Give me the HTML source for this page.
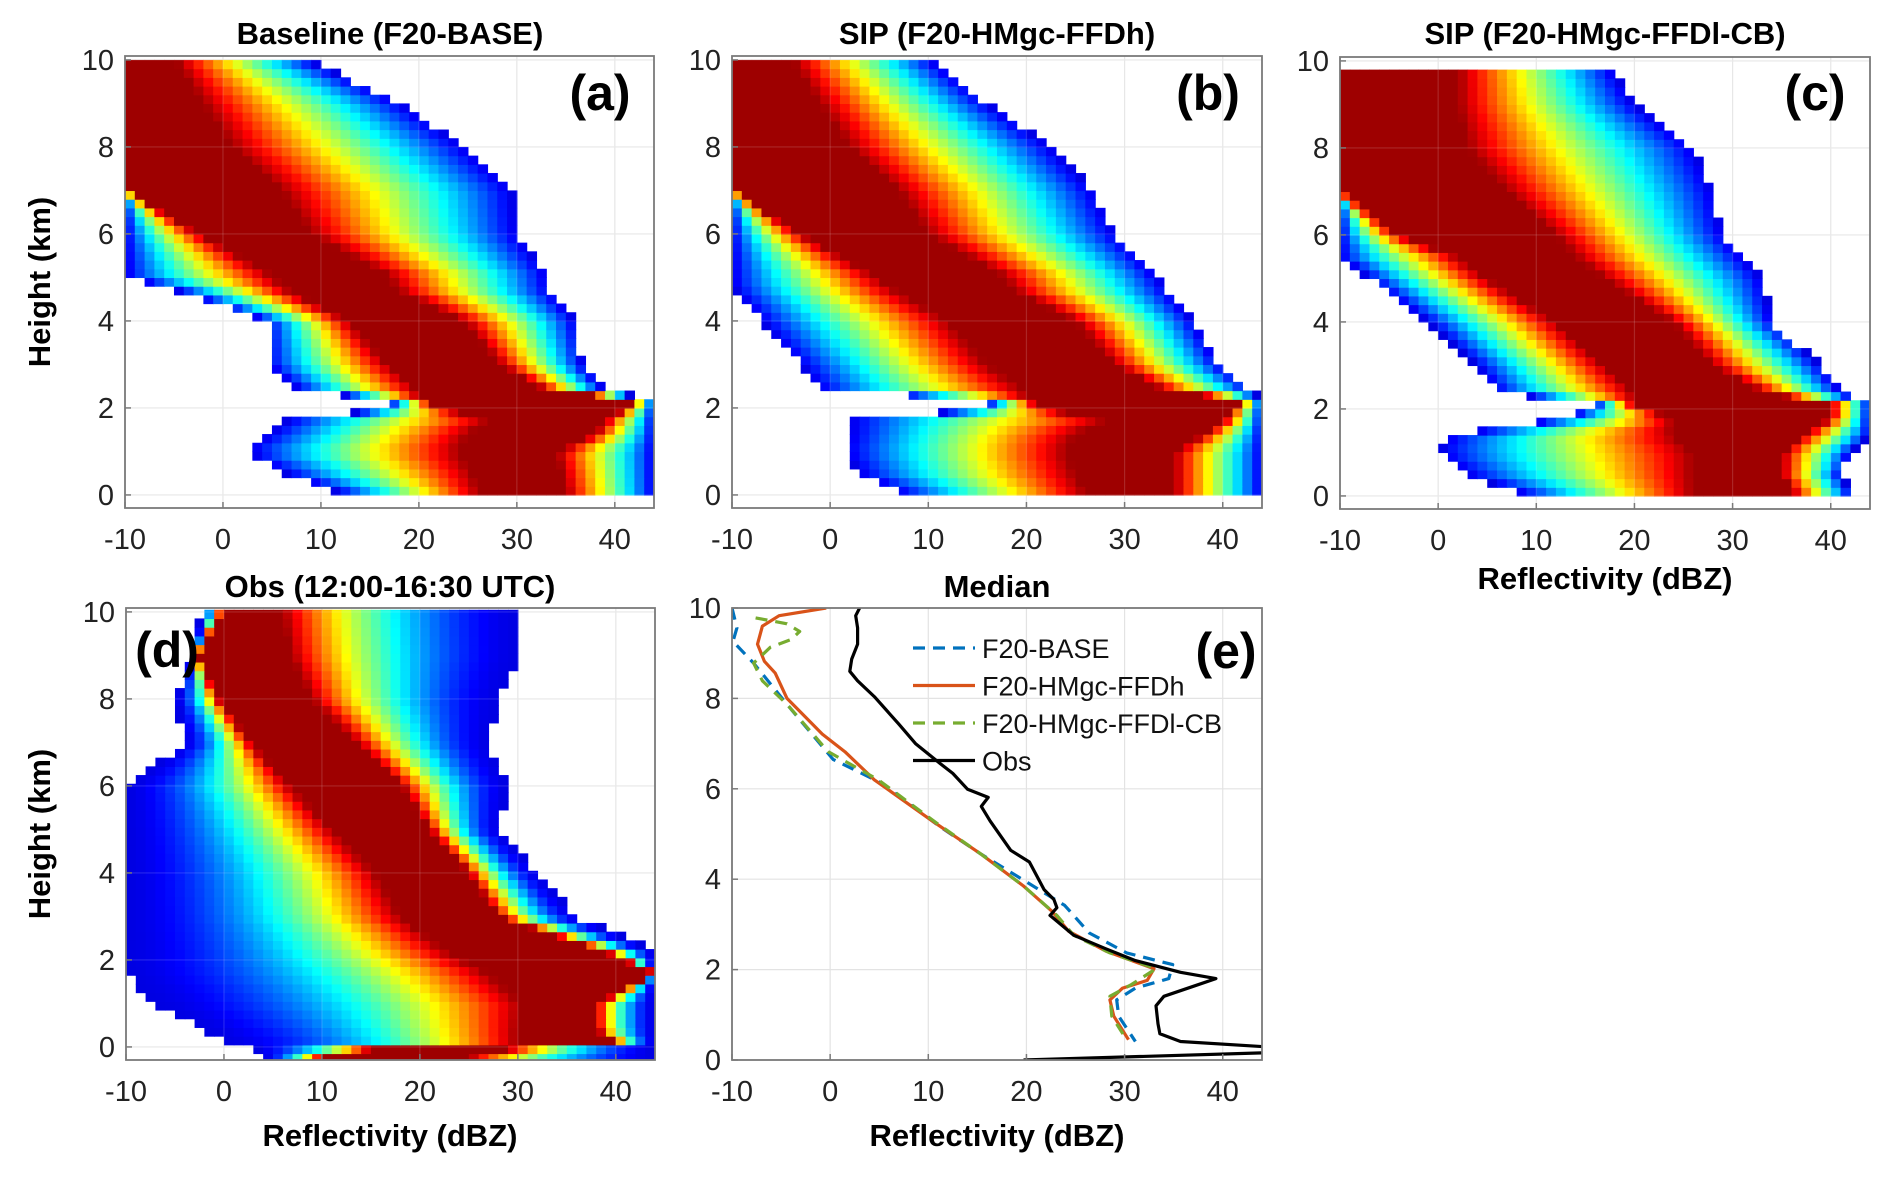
<!DOCTYPE html>
<html><head><meta charset="utf-8"><style>
html,body{margin:0;padding:0;background:#fff;}
svg{display:block;font-family:"Liberation Sans","DejaVu Sans",sans-serif;}
</style></head><body>
<svg id="fig" width="1892" height="1177" viewBox="0 0 1892 1177" xmlns="http://www.w3.org/2000/svg"></svg>
<script>
// ---- Panel (a) Baseline data: per-height profile of reflectivity distribution ----
const aHeights=[0.1,0.5,1,1.4,1.7,2,2.2,2.4,3,4,4.8,5,6,7,8,9,10.05];
const aXmin=[11.4,6.4,2.3,4.6,6.4,17,17,7.8,4.6,4.6,-6,-10,-10,-10,-10,-10,-10];
const aCoreL=[26.2,25.5,24,25,27,22.8,20,20,16.9,12.8,6,5.5,-2.3,-10,-10,-10,-10];
const aCoreR=[35,34.6,34,37.8,39,41,42,33,28.3,24.6,17,17.3,9,6,1,-2,-5];
const aXmax=[44,44,44,44,44,44,44,39,36.7,36,33,33.3,30,29.6,24.6,18.2,8.2];
// ---- Panel (b) ----
const bHeights=[0.1,0.5,1,1.4,1.7,2,2.2,2.4,3,4,4.8,5,6,7,8,9,10.05];
const bXmin=[6.7,3,1.5,2,2,16,16,-1,-3,-7,-10,-10,-10,-10,-10,-10,-10];
const bCoreL=[26,25,24,25,28,22,20,20,16,12,6,5,-3,-10,-10,-10,-10];
const bCoreR=[35,35,35,38,40,41,42,34,29,25,18,18,10,7,2,-1,-4];
const bXmax=[44,44,44,44,44,44,44,43,39.6,37,34,33.5,29,26.8,22.5,16,10];
// ---- Panel (c) ----
const cHeights=[0.1,0.5,1,1.4,1.8,2.1,2.4,3,4,5,5.5,6,7,8,9,9.7];
const cXmin=[8,3,0,1,13,16,6,4,-1,-7,-10,-10,-10,-10,-10,-10];
const cCoreL=[26,26,26,24,24,20,20,17,12,5,2,-4,-10,-10,-10,-10];
const cCoreR=[36,35,35,37,40,40,33,28,24,17,14,12,7,3,2,2];
const cXmax=[42,41,42,44,44,44,41,39,34,33,31,29,28,26,20,18];
// ---- Panel (d) Obs ----
const dHeights=[-0.25,-0.1,0.1,0.4,1,1.7,2.2,3,4,5,6,7,8,9,10.05];
const dXmin=[4,4,0,-2,-7,-10,-10,-10,-10,-10,-10,-4,-5,-3.2,-2.3];
const dCoreL=[10,10,30,30,30.5,27,22.8,18,15.5,11,6.8,2.7,-0.5,-2.8,0];
const dCoreR=[25,25,40,38,38,44,38.8,28,25,21,18.2,13.6,9,6.8,5.9];
const dXmax=[44,44,44,44,44,44,44,36,32,28,29,27,28,30,30];
// ---- Panel (e) median profiles ----
const obsX=[3.0,2.6,2.8,2.8,2.2,2.0,2.8,4.5,7.0,8.7,11.2,12.5,14.0,16.1,15.4,16.3,18.4,20.3,21.8,22.8,23.1,22.4,24.8,28.1,31.1,35.7,39.3,37.0,34.0,33.2,33.4,33.6,35.7,46,46,19.7];
const obsY=[10,9.83,9.56,9.2,8.87,8.6,8.39,8.04,7.43,7.0,6.56,6.34,5.99,5.81,5.61,5.29,4.64,4.38,3.77,3.55,3.37,3.2,2.76,2.46,2.2,1.94,1.8,1.63,1.41,1.2,0.8,0.58,0.41,0.27,0.17,0.0];
const ffdhX=[-0.4,-5.2,-6.9,-7.4,-6.7,-5.6,-4.4,-0.8,1.5,4.5,10.4,15.4,19.7,22.6,24.3,28.1,33.0,32.3,29.8,28.5,28.9,30.4];
const ffdhY=[10,9.83,9.6,9.2,8.82,8.56,8.0,7.21,6.82,6.2,5.29,4.55,3.85,3.29,2.85,2.41,2.02,1.76,1.59,1.33,0.97,0.45];
const baseX=[-10,-9.5,-9.9,-7.8,-4.4,0.3,5.3,11.2,15.4,19.7,23.9,26.4,30.2,34.9,34.5,31.1,29.2,29.4,31.1];
const baseY=[10,9.56,9.26,8.78,7.87,6.65,6.12,5.16,4.55,3.98,3.42,2.81,2.37,2.11,1.8,1.59,1.33,0.97,0.41];
const cbX=[-7.6,-4.4,-3.1,-4.0,-6.1,-7.8,-6.9,-4.4,-0.2,4.9,10.8,15.4,19.7,23.1,24.8,28.5,33.2,30.7,28.5,28.7,30.2];
const cbY=[9.78,9.65,9.48,9.3,9.13,8.78,8.39,7.87,6.82,6.2,5.25,4.55,3.85,3.2,2.76,2.37,2.02,1.67,1.41,0.97,0.45];
const xTicks=[-10,0,10,20,30,40];
const yTicks=[0,2,4,6,8,10];

const NS="http://www.w3.org/2000/svg";
const svg=document.getElementById('fig');
function mk(tag,attrs,parent){const e=document.createElementNS(NS,tag);for(const k in attrs)e.setAttribute(k,attrs[k]);(parent||svg).appendChild(e);return e;}
function txt(s,attrs,parent){const e=mk('text',attrs,parent);e.textContent=s;return e;}
function jet(v){v=v*0.97;const c=t=>Math.max(0,Math.min(1,t));const r=c(1.5-Math.abs(4*v-3)),g=c(1.5-Math.abs(4*v-2)),b=c(1.5-Math.abs(4*v-1));
  return 'rgb('+Math.round(r*255)+','+Math.round(g*255)+','+Math.round(b*255)+')';}
function interp(hs,arr,h){for(let i=0;i<hs.length-1;i++){if(h>=hs[i]&&h<=hs[i+1]){const t=(h-hs[i])/(hs[i+1]-hs[i]);return arr[i]+t*(arr[i+1]-arr[i]);}}return null;}

const panels={
 a:{x0:125,x1:654,y0:56,y1:508,ymin:-0.3,ymax:10.09},
 b:{x0:732,x1:1262,y0:56,y1:508,ymin:-0.3,ymax:10.09},
 c:{x0:1340,x1:1870,y0:57,y1:509,ymin:-0.3,ymax:10.09},
 d:{x0:126,x1:655,y0:608,y1:1060,ymin:-0.3,ymax:10.09},
 e:{x0:732,x1:1262,y0:608,y1:1060,ymin:0,ymax:10}
};
for(const k in panels){const p=panels[k];p.sx=v=>p.x0+(v+10)/54*(p.x1-p.x0);p.sy=v=>p.y1-(v-p.ymin)/(p.ymax-p.ymin)*(p.y1-p.y0);}

function axesBase(p,name){
  const g=mk('g',{});
  
  
  mk('rect',{x:p.x0,y:p.y0,width:p.x1-p.x0,height:p.y1-p.y0,fill:'#fff'},g);
  return g;
}
function grid(p,g){
  xTicks.forEach(t=>{const x=p.sx(t);const l=mk('line',{x1:x,x2:x,y1:p.y0,y2:p.y1,stroke:'#e3e3e3','stroke-width':1.2},g);
    });
  yTicks.forEach(t=>{const y=p.sy(t);const l=mk('line',{x1:p.x0,x2:p.x1,y1:y,y2:y,stroke:'#e3e3e3','stroke-width':1.2},g);
    });
}
function frame(p,g){
  mk('rect',{x:p.x0,y:p.y0,width:p.x1-p.x0,height:p.y1-p.y0,fill:'none',stroke:'#7a7a7a','stroke-width':1.8},g);
  xTicks.forEach(t=>{const x=p.sx(t);mk('line',{x1:x,x2:x,y1:p.y1,y2:p.y1-6,stroke:'#7a7a7a','stroke-width':1.5},g);
    const tl=txt(String(t),{x:x,y:p.y1+41,'font-size':29,'text-anchor':'middle',fill:'#222'},g);
    });
  yTicks.forEach(t=>{const y=p.sy(t);mk('line',{x1:p.x0,x2:p.x0+6,y1:y,y2:y,stroke:'#7a7a7a','stroke-width':1.5},g);
    const tl=txt(String(t),{x:p.x0-11,y:y+10,'font-size':29,'text-anchor':'end',fill:'#222'},g);
    });
}
function heatmap(p,g,hs,xmin,cl,cr,xmax,expo,name){
  const hg=mk('g',{},g);
  
  
  const dh=0.2;
  for(let h=hs[0];h<=hs[hs.length-1]+1e-6;h+=dh){
    const mn=interp(hs,xmin,h),L=interp(hs,cl,h),R=interp(hs,cr,h),mx=interp(hs,xmax,h);
    if(mn===null)continue;
    const yTop=p.sy(Math.min(h+dh/2,p.ymax)),yBot=p.sy(Math.max(h-dh/2,p.ymin));
    for(let x=-10;x<44;x+=1){
      const xc=x+0.5;if(xc<mn||xc>mx)continue;
      let v;
      if(xc>=L&&xc<=R)v=1;
      else if(xc<L){const t=(xc-mn)/Math.max(0.5,L-mn);v=0.1+0.9*Math.pow(Math.max(0,t),expo);}
      else{const t=(mx-xc)/Math.max(0.5,mx-R);v=0.1+0.9*Math.pow(Math.max(0,t),expo);}
      const r=mk('rect',{x:p.sx(x),y:yTop,width:p.sx(x+1)-p.sx(x)+0.6,height:yBot-yTop+0.6,fill:jet(v)},hg);
      
      
    }
  }
}
function title(s,cx,y,name){const t=txt(s,{x:cx,y:y,'font-size':31,'font-weight':'bold','text-anchor':'middle',fill:'#000'});
  }
function plabel(s,x,y,name){const t=txt(s,{x:x,y:y,'font-size':50,'font-weight':'bold','text-anchor':'middle',fill:'#000'});
  }

const hm={a:[aHeights,aXmin,aCoreL,aCoreR,aXmax,1],b:[bHeights,bXmin,bCoreL,bCoreR,bXmax,1],c:[cHeights,cXmin,cCoreL,cCoreR,cXmax,1],d:[dHeights,dXmin,dCoreL,dCoreR,dXmax,1.8]};
for(const k of ['a','b','c','d']){
  const p=panels[k];const g=axesBase(p,'panel-'+k);
  grid(p,g);
  const cp=mk('clipPath',{id:'clip'+k},g);mk('rect',{x:p.x0,y:p.y0,width:p.x1-p.x0,height:p.y1-p.y0},cp);
  const inner=mk('g',{'clip-path':'url(#clip'+k+')'},g);
  const h=hm[k];heatmap(p,inner,h[0],h[1],h[2],h[3],h[4],h[5],'panel-'+k);
  grid(p,inner);
  inner.querySelectorAll('line').forEach(l=>l.setAttribute('stroke','rgba(255,255,255,0.15)'));
  frame(p,g);
}
// panel e
{
  const p=panels.e;const g=axesBase(p,'panel-e');grid(p,g);
  const cp=mk('clipPath',{id:'clipe'},g);mk('rect',{x:p.x0,y:p.y0,width:p.x1-p.x0,height:p.y1-p.y0},cp);
  const inner=mk('g',{'clip-path':'url(#clipe)'},g);
  const series=[[baseX,baseY,'#0072BD','12,8','line-f20-base'],[ffdhX,ffdhY,'#D95319','','line-f20-hmgc-ffdh'],[cbX,cbY,'#77AC30','12,8','line-f20-hmgc-ffdl-cb'],[obsX,obsY,'#000','','line-obs']];
  series.forEach(s=>{
    const d=s[0].map((v,i)=>(i?'L':'M')+p.sx(v).toFixed(1)+' '+p.sy(s[1][i]).toFixed(1)).join(' ');
    const a={d:d,fill:'none',stroke:s[2],'stroke-width':3.2,'stroke-linejoin':'round'};if(s[3])a['stroke-dasharray']=s[3];
    const path=mk('path',a,inner);
    
    
  });
  frame(p,g);
  const lg=mk('g',{});
  
  
  const items=[['F20-BASE','#0072BD','12,8'],['F20-HMgc-FFDh','#D95319',''],['F20-HMgc-FFDl-CB','#77AC30','12,8'],['Obs','#000','']];
  items.forEach((it,i)=>{const y=648+i*37.5;
    const ent=mk('g',{},lg);
    
    
    const a={x1:913,x2:975,y1:y,y2:y,stroke:it[1],'stroke-width':3.2};if(it[2])a['stroke-dasharray']=it[2];
    mk('line',a,ent);
    txt(it[0],{x:982,y:y+10,'font-size':27,fill:'#111'},ent);
  });
}
title('Baseline (F20-BASE)',390,44,'title-a');
title('SIP (F20-HMgc-FFDh)',997,44,'title-b');
title('SIP (F20-HMgc-FFDl-CB)',1605,44,'title-c');
title('Obs (12:00-16:30 UTC)',390,597,'title-d');
title('Median',997,597,'title-e');
plabel('(a)',600,110,'panel-label-a');
plabel('(b)',1208,110,'panel-label-b');
plabel('(c)',1815,110,'panel-label-c');
plabel('(d)',167,667,'panel-label-d');
plabel('(e)',1226,668,'panel-label-e');
[['Reflectivity (dBZ)',1605,589,'x-axis-title-c'],['Reflectivity (dBZ)',390,1146,'x-axis-title-d'],['Reflectivity (dBZ)',997,1146,'x-axis-title-e']].forEach(a=>{
  const t=txt(a[0],{x:a[1],y:a[2],'font-size':31,'font-weight':'bold','text-anchor':'middle',fill:'#000'});
  });
[[282,'y-axis-title-top'],[834,'y-axis-title-bottom']].forEach(a=>{
  const t=txt('Height (km)',{x:0,y:0,'font-size':31,'font-weight':'bold','text-anchor':'middle',fill:'#000',transform:'translate(50,'+a[0]+') rotate(-90)'});
  });
</script>
</body></html>
